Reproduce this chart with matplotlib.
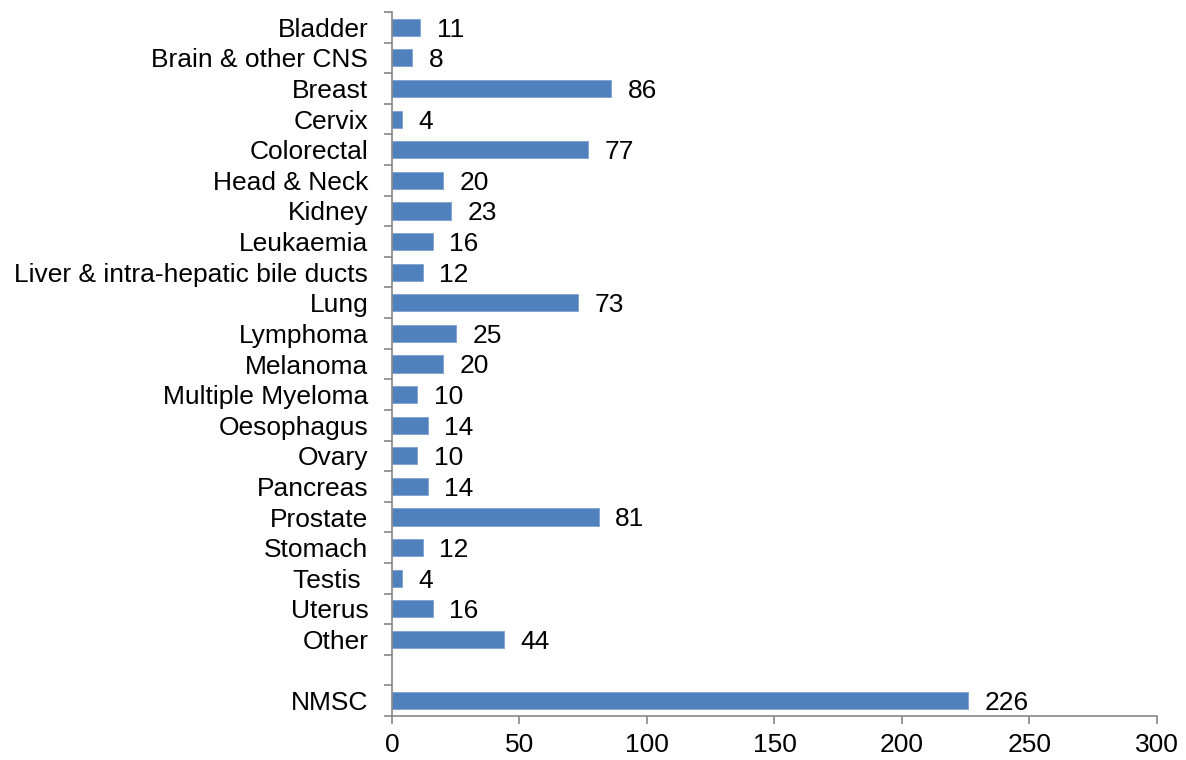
import numpy as np
import matplotlib.pyplot as plt

plt.rcParams['font.family'] = ['Liberation Sans', 'DejaVu Sans']

#Data
sites = ['Bladder', 'Brain & other CNS', 'Breast', 'Cervix', 'Colorectal',
         'Head & Neck', 'Kidney', 'Leukaemia', 'Liver & intra-hepatic bile ducts',
         'Lung', 'Lymphoma', 'Melanoma', 'Multiple Myeloma', 'Oesophagus',
         'Ovary', 'Pancreas', 'Prostate', 'Stomach', 'Testis ', 'Uterus',
         'Other', '', 'NMSC']
counts = [11, 8, 86, 4, 77, 20, 23, 16, 12, 73, 25, 20, 10, 14, 10, 14,
          81, 12, 4, 16, 44, None, 226]
xticks = [0, 50, 100, 150, 200, 250, 300]

grey = '#868686'
blue = '#4F81BD'
fs = 19

fig = plt.figure(figsize=(11.86, 7.6), dpi=100)
ax = fig.add_axes([0.3305, 0.0579, 0.645, 0.9263])

ypos = np.arange(len(sites))
for y, v in zip(ypos, counts):
    if v is None:
        continue
    ax.barh(y, v, height=0.56, color=blue, edgecolor='#7FA2D0', linewidth=0.6)
    ax.text(v + 6.5, y + 0.08, str(v), va='center', ha='left', fontsize=fs)

ax.set_ylim(len(sites) - 0.5, -0.5)
ax.set_xlim(0, 300)
ax.set_xticks(xticks)
ax.set_xticklabels([str(t) for t in xticks], fontsize=fs)
ax.set_yticks(ypos)
ax.set_yticklabels(sites, fontsize=fs)
ax.set_yticks(np.arange(-0.5, len(sites)), minor=True)
ax.tick_params(axis='y', which='major', length=0, pad=17)
ax.tick_params(axis='y', which='minor', length=6, color=grey, width=1.2)
ax.tick_params(axis='x', length=6, color=grey, width=1.2, pad=6)

for s in ['top', 'right']:
    ax.spines[s].set_visible(False)
for s in ['left', 'bottom']:
    ax.spines[s].set_color(grey)
    ax.spines[s].set_linewidth(1.2)

fig.savefig('out.png', dpi=100)
